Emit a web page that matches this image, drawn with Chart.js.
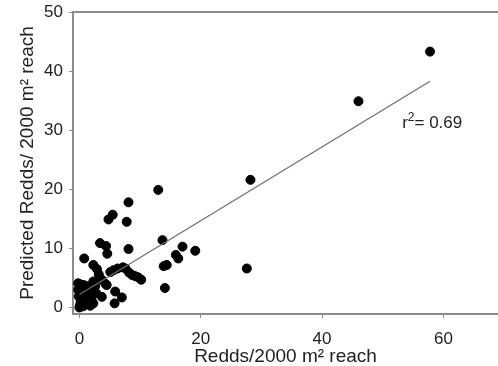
<!DOCTYPE html>
<html>
<head>
<meta charset="utf-8">
<script src="https://cdn.jsdelivr.net/npm/chart.js@4"></script>
<style>
  body { margin: 0; background: #fff; }
</style>
</head>
<body>
<canvas id="myChart" width="498" height="366"></canvas>
<script>
'use strict';

// observed redds (x) vs predicted redds (y), per 2000 m2 reach
const observed = [
  57.8, 46.0, 28.2, 27.6, 13.0, 8.1, 5.5, 4.8, 7.8, 8.1, 13.7, 17.0, 15.9, 16.3, 19.1,
  13.9, 14.4, 14.1, 0.8, 3.4, 4.4, 4.6,
  2.3, 2.9, 3.2, 3.7, 4.3, 5.1, 5.6, 6.3, 7.2, 7.6, 8.2, 8.7, 9.2, 9.7, 10.2,
  3.7, 5.9, 7.0, 5.8, 2.8, 2.3, 4.5,
  -0.2, 0.2, 0.7, -0.2, 0.3, 0.9, 0.4, 1.5, -0.1, 0.6, 1.8, 1.0, 0.2, 0.1, 0.6,
  1.2, 1.8, 2.0, 2.6, 2.3, 1.4, 0.0, 1.3,
];
const predicted = [
  43.3, 34.9, 21.6, 6.6, 19.9, 17.8, 15.7, 14.9, 14.5, 9.9, 11.4, 10.3, 8.9, 8.3, 9.6,
  7.0, 7.2, 3.3, 8.3, 10.9, 10.4, 9.1,
  7.2, 6.5, 5.6, 4.7, 4.0, 6.0, 6.3, 6.6, 6.8, 6.6, 5.9, 5.5, 5.3, 5.1, 4.7,
  1.8, 2.7, 1.7, 0.7, 2.4, 0.7, 3.8,
  4.1, 3.9, 3.8, 3.0, 3.2, 2.9, 2.4, 2.7, 1.9, 1.7, 1.8, 1.3, 1.0, 0.4, 0.2,
  0.7, 0.3, 1.2, 3.6, 4.4, 3.6, 0.0, 2.1,
];

// fitted regression line end points
const fitX = [0, 57.8];
const fitY = [2.2, 38.3];
const rSquared = '0.69';

const xTicks = [0, 20, 40, 60];
const yTicks = [0, 10, 20, 30, 40, 50];

const points = observed.map((x, i) => ({ x: x, y: predicted[i] }));
const fitLine = fitX.map((x, i) => ({ x: x, y: fitY[i] }));

const axisGray = '#8c8c8c';
const textColor = '#222';
const fontFamily = '"Liberation Sans", Arial, sans-serif';

// top frame line and the r² note
const extras = {
  id: 'extras',
  afterDraw(chart) {
    const { ctx, chartArea, scales } = chart;
    ctx.save();
    ctx.strokeStyle = axisGray;
    ctx.lineWidth = 2;
    ctx.beginPath();
    ctx.moveTo(chartArea.left - 1, chartArea.top);
    ctx.lineTo(chartArea.right, chartArea.top);
    ctx.stroke();

    let px = scales.x.getPixelForValue(53.2);
    const py = scales.y.getPixelForValue(30.3);
    ctx.fillStyle = textColor;
    ctx.textBaseline = 'alphabetic';
    ctx.font = '17px ' + fontFamily;
    ctx.fillText('r', px, py);
    px += ctx.measureText('r').width;
    ctx.font = '12px ' + fontFamily;
    ctx.fillText('2', px, py - 7);
    px += ctx.measureText('2').width;
    ctx.font = '17px ' + fontFamily;
    ctx.fillText('= ' + rSquared, px, py);
    ctx.restore();
  },
};

new Chart(document.getElementById('myChart'), {
  type: 'scatter',
  data: {
    datasets: [
      {
        type: 'line',
        data: fitLine,
        borderColor: '#6e6e6e',
        borderWidth: 1.2,
        pointRadius: 0,
        fill: false,
      },
      {
        data: points,
        backgroundColor: '#000',
        borderColor: '#000',
        pointRadius: 4.5,
        pointHoverRadius: 4.5,
      },
    ],
  },
  options: {
    responsive: false,
    animation: false,
    layout: { autoPadding: false, padding: { top: 12, right: 0, left: 0, bottom: 0 } },
    plugins: {
      legend: { display: false },
      tooltip: { enabled: false },
    },
    scales: {
      x: {
        type: 'linear',
        min: -1.05,
        max: 69,
        afterFit: (scale) => {
          scale.height = 52;
          scale.paddingLeft = 0;
          scale.paddingRight = 0;
        },
        afterBuildTicks: (scale) => { scale.ticks = xTicks.map((v) => ({ value: v })); },
        grid: { drawOnChartArea: false, tickColor: axisGray, tickLength: 4, color: axisGray },
        border: { color: axisGray, width: 2 },
        ticks: {
          color: textColor,
          padding: 11,
          maxRotation: 0,
          font: { family: fontFamily, size: 17 },
        },
        title: {
          display: true,
          text: 'Redds/2000 m² reach',
          color: textColor,
          padding: { top: 0, bottom: 0 },
          font: { family: fontFamily, size: 19, lineHeight: 1 },
        },
      },
      y: {
        type: 'linear',
        min: -1.1,
        max: 50,
        afterFit: (scale) => {
          scale.width = 73;
          scale.paddingTop = 0;
          scale.paddingBottom = 0;
        },
        afterBuildTicks: (scale) => { scale.ticks = yTicks.map((v) => ({ value: v })); },
        grid: { drawOnChartArea: false, tickColor: axisGray, tickLength: 4, color: axisGray },
        border: { color: axisGray, width: 2 },
        ticks: {
          color: textColor,
          padding: 6,
          font: { family: fontFamily, size: 17 },
        },
        title: {
          display: true,
          text: 'Predicted Redds/ 2000 m² reach',
          color: textColor,
          padding: { top: 18, bottom: 0 },
          font: { family: fontFamily, size: 19, lineHeight: 1 },
        },
      },
    },
  },
  plugins: [extras],
});
</script>
</body>
</html>
